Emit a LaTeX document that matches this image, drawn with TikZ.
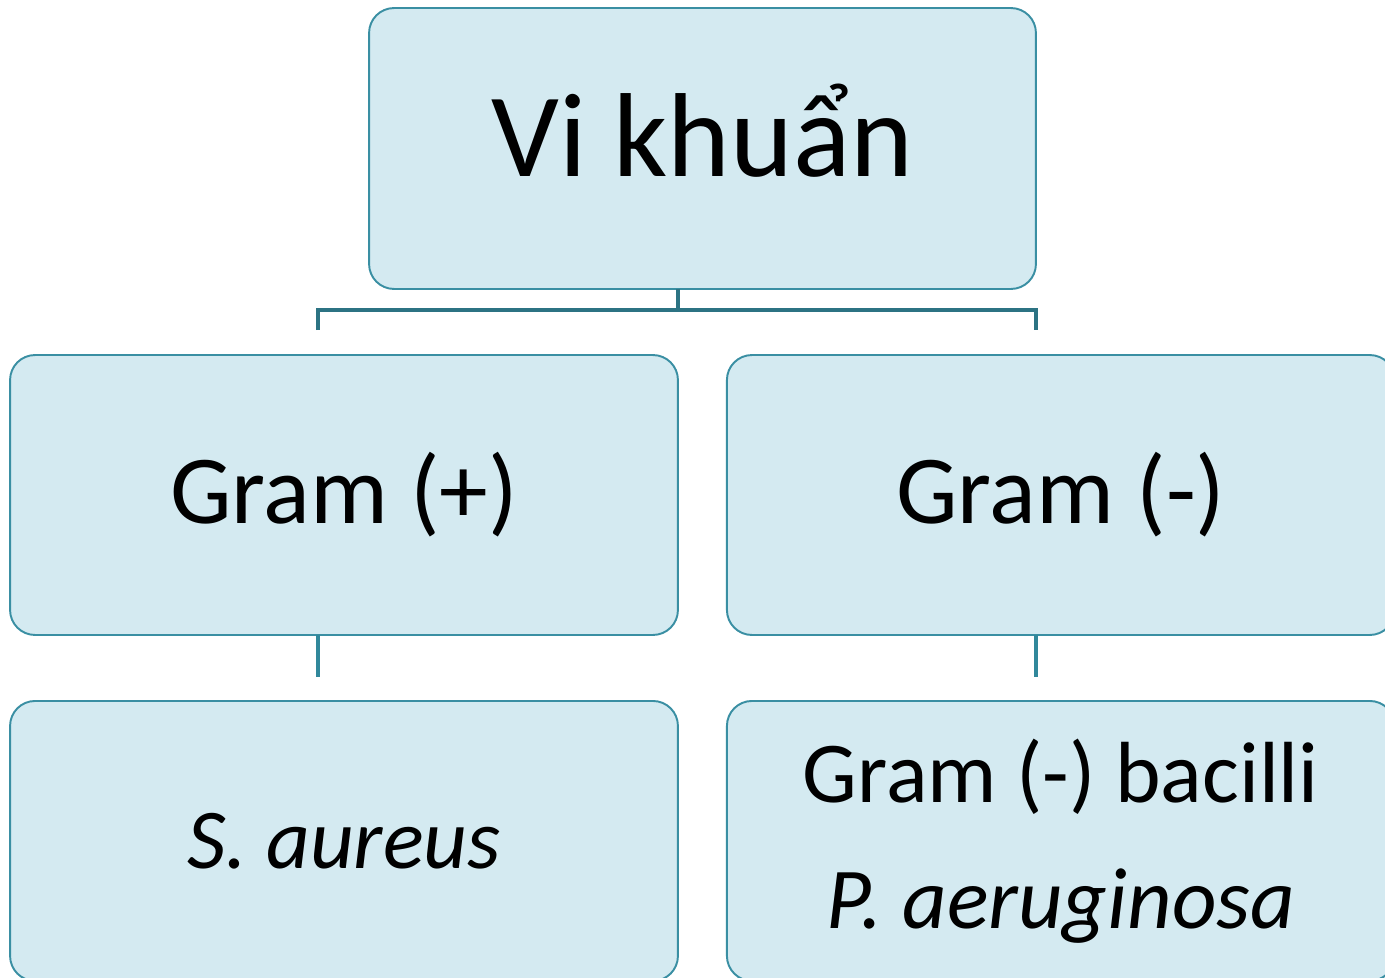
\documentclass[tikz,border=0pt]{standalone}
\usepackage{fontspec}
\setmainfont{Carlito}
\usetikzlibrary{positioning}
\definecolor{boxfill}{HTML}{D4EAF1}
\definecolor{boxline}{HTML}{3A8FA3}
\definecolor{trunkcol}{HTML}{2C7383}
\definecolor{legcol}{HTML}{31889B}
\begin{document}
\begin{tikzpicture}[x=0.02cm, y=-0.02cm]
	\tikzstyle{box}=[rectangle, rounded corners=0.5cm, fill=boxfill, draw=boxline, line width=1.1pt, minimum width=13.36cm, minimum height=5.6cm, inner sep=0pt, outer sep=0pt, align=center, node distance=1.32cm and 0.98cm]
	\tikzstyle{trunk}=[draw=trunkcol, line width=2.8pt]
	\tikzstyle{leg}=[draw=legcol, line width=2.8pt]
	\useasboundingbox (0,0) rectangle (1385,977);
	\clip (0,0) rectangle (1385,977);
	\node[box, minimum width=13.34cm, minimum height=5.62cm] (bact) at (702.5,148.5) [label={[yshift=0.36cm, font=\fontsize{68}{82}\selectfont]center:Vi khuẩn}] {};
	\node[box, font=\fontsize{55.5}{66}\selectfont] (gpos) at (344,495) {Gram (+)};
	\node[box, font=\fontsize{55.5}{66}\selectfont] (gneg) [right=of gpos] {Gram (-)};
	\node[box, font=\fontsize{48.5}{60}\selectfont\itshape] (saur) [below=of gpos] {S. aureus};
	\node[box, font=\fontsize{49.4}{72}\selectfont] (paer) [below=of gneg] {Gram (-) bacilli\\\itshape P. aeruginosa};
	% connectors
	\coordinate (tx) at (678,310);
	\coordinate (jl) at (318,330);
	\coordinate (jr) at (1036,330);
	\coordinate (pl) at (318,677);
	\coordinate (pr) at (1036,677);
	\draw[trunk, line width=2.3pt] (bact.south -| tx) -- (tx);
	\draw[trunk] (jl) |- (tx) -| (jr);
	\draw[leg] (gpos.south -| pl) -- (pl);
	\draw[leg] (gneg.south -| pr) -- (pr);
\end{tikzpicture}
\end{document}
